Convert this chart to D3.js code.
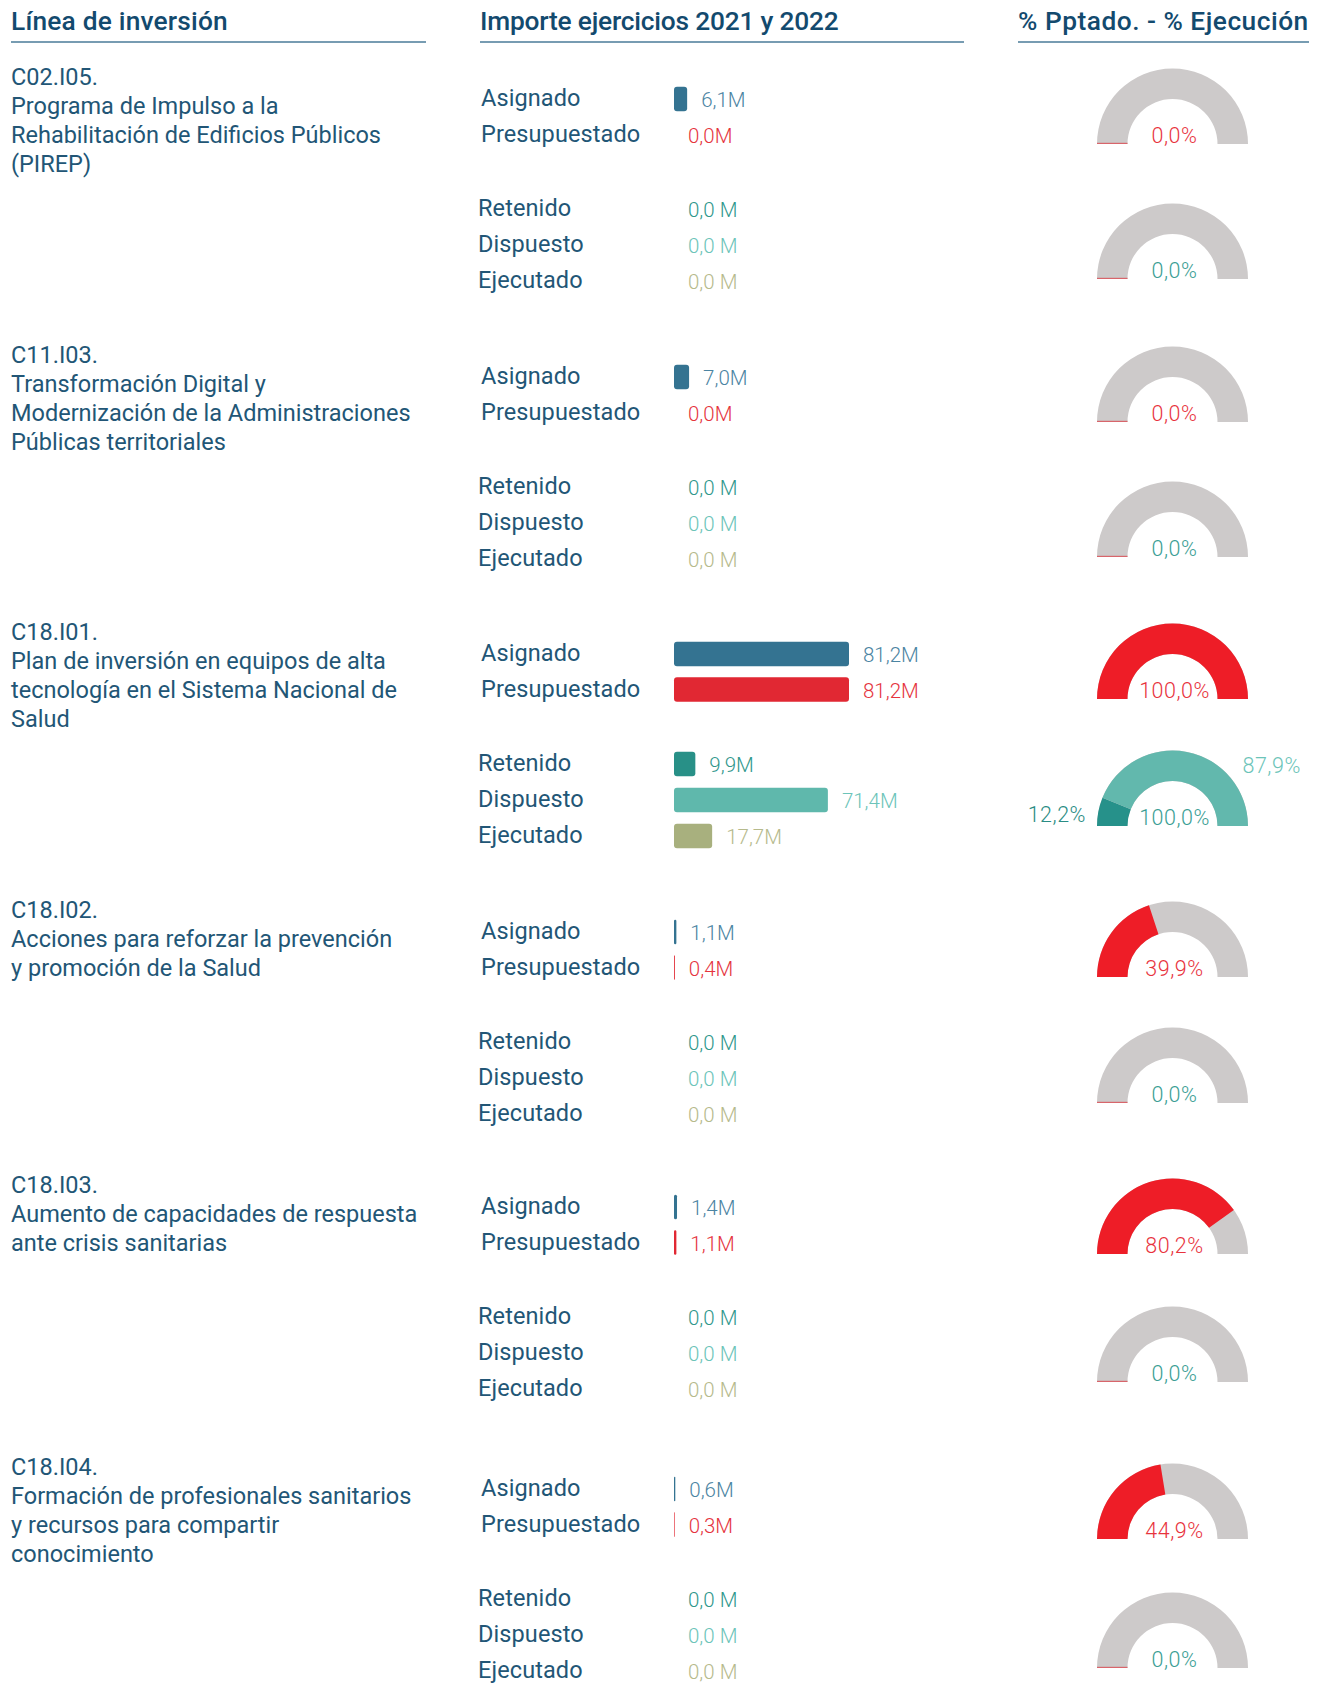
<!DOCTYPE html>
<html lang="es">
<head>
<meta charset="utf-8">
<script src="https://cdn.jsdelivr.net/npm/d3@7"></script>
<style>
  html, body { margin: 0; padding: 0; background: #ffffff; }
  svg { display: block; font-family: Roboto, "Noto Sans", sans-serif; }
</style>
</head>
<body>
<svg id="chart" width="1325" height="1685"></svg>
<script>
// Investment lines (code + description split in printed lines)
const codes = ["C02.I05.", "C11.I03.", "C18.I01.", "C18.I02.", "C18.I03.", "C18.I04."];
const titles = [
  ["Programa de Impulso a la", "Rehabilitación de Edificios Públicos", "(PIREP)"],
  ["Transformación Digital y", "Modernización de la Administraciones", "Públicas territoriales"],
  ["Plan de inversión en equipos de alta", "tecnología en el Sistema Nacional de", "Salud"],
  ["Acciones para reforzar la prevención", "y promoción de la Salud"],
  ["Aumento de capacidades de respuesta", "ante crisis sanitarias"],
  ["Formación de profesionales sanitarios", "y recursos para compartir", "conocimiento"]
];

// Amounts 2021-2022, millions of euros
const rowLabels = ["Asignado", "Presupuestado", "Retenido", "Dispuesto", "Ejecutado"];
const asignado      = [6.1, 7.0, 81.2, 1.1, 1.4, 0.6];
const presupuestado = [0.0, 0.0, 81.2, 0.4, 1.1, 0.3];
const retenido      = [0.0, 0.0, 9.9, 0.0, 0.0, 0.0];
const dispuesto     = [0.0, 0.0, 71.4, 0.0, 0.0, 0.0];
const ejecutado     = [0.0, 0.0, 17.7, 0.0, 0.0, 0.0];

// Percentages shown in the gauges
const pctPresupuestado = [0.0, 0.0, 100.0, 39.9, 80.2, 44.9];
const pctRetenido      = [0.0, 0.0, 12.2, 0.0, 0.0, 0.0];
const pctDispuesto     = [0.0, 0.0, 87.9, 0.0, 0.0, 0.0];
const pctEjecucion     = [0.0, 0.0, 100.0, 0.0, 0.0, 0.0];

const headers = ["Línea de inversión", "Importe ejercicios 2021 y 2022", "% Pptado. - % Ejecución"];

// ---- styling ----
const navy = "#134a6e";
const textBlue = "#225676";
const barColors  = ["#347391", "#e12833", "#289087", "#5fb8ac", "#a8b07e"];
const valColors  = ["#4b84a2", "#e5343e", "#2f978c", "#6cc4b9", "#b6ba8c"];
const gaugeGrey = "#cdcaca";
const gaugeRed = "#ee1d27";
const gaugeTealDark = "#26918a";
const gaugeTealLight = "#62b8ad";

const svg = d3.select("#chart");

const fmtM = (v, spaced) => v.toFixed(1).replace(".", ",") + (spaced && v === 0 ? " M" : "M");
const fmtP = v => v.toFixed(1).replace(".", ",") + "%";

// ---- column headers ----
const headerCols = [
  { x: 11, x2: 426, ls: 0.2 },
  { x: 480, x2: 964, ls: -0.2 },
  { x: 1018, x2: 1309, ls: 0.5 }
];
headers.forEach((h, i) => {
  svg.append("text")
    .attr("x", headerCols[i].x).attr("y", 30)
    .attr("font-size", 26.3).attr("font-weight", 500)
    .attr("letter-spacing", headerCols[i].ls)
    .attr("fill", navy).text(h);
  svg.append("line")
    .attr("x1", headerCols[i].x).attr("x2", headerCols[i].x2)
    .attr("y1", 42).attr("y2", 42)
    .attr("stroke", "#4a7b99").attr("stroke-width", 1.4);
});

// ---- layout ----
// vertical origin of each investment block and baselines of its two gauges
const panelTop = [0, 278, 555, 833, 1108, 1390];
const presGaugeY = [144, 144, 144, 144, 146, 149];
const execGaugeY = [279, 279, 271, 270, 274, 278];
const rowCenters = [99, 134.5, 209, 245, 281];
const barX0 = 674;
const barH = 24.5;
const x = d3.scaleLinear().domain([0, 81.2]).range([0, 175]);

const gaugeCx = 1172.5, rOut = 75.5, rIn = 45;
const arc = d3.arc().innerRadius(rIn).outerRadius(rOut);
const A0 = -Math.PI / 2;
const angle = d3.scaleLinear().domain([0, 100]).range([A0, Math.PI / 2]).clamp(true);

codes.forEach((code, i) => {
  const g = svg.append("g").attr("transform", `translate(0,${panelTop[i]})`);

  // left column: code and title
  const t = g.append("text")
    .attr("x", 11).attr("y", 84.5)
    .attr("font-size", 23.5).attr("font-weight", 400)
    .attr("fill", textBlue);
  [code].concat(titles[i]).forEach((line, k) => {
    t.append("tspan").attr("x", 11).attr("y", 84.5 + k * 29).text(line);
  });

  // middle column: bars
  const vals = [asignado[i], presupuestado[i], retenido[i], dispuesto[i], ejecutado[i]];
  vals.forEach((v, r) => {
    const cy = rowCenters[r];
    g.append("text")
      .attr("x", r < 2 ? 481 : 478).attr("y", cy + 7)
      .attr("font-size", 23.5).attr("font-weight", 400)
      .attr("letter-spacing", 0.1)
      .attr("fill", textBlue).text(rowLabels[r]);
    const w = x(v);
    if (w > 0) {
      g.append("rect")
        .attr("x", barX0).attr("y", cy - barH / 2)
        .attr("width", w).attr("height", barH)
        .attr("rx", Math.min(3, w / 2)).attr("ry", Math.min(3, w / 2))
        .attr("fill", barColors[r]);
    }
    g.append("text")
      .attr("x", barX0 + w + 14).attr("y", cy + 8)
      .attr("font-size", 20.5).attr("font-weight", 300)
      .attr("fill", valColors[r]).text(fmtM(v, r >= 2));
  });

  // right column: gauges
  const gauges = [
    { base: presGaugeY[i], segs: [{ v: pctPresupuestado[i], c: gaugeRed }], label: pctPresupuestado[i], lc: "#e8333d" },
    { base: execGaugeY[i], segs: [{ v: pctRetenido[i], c: gaugeTealDark }, { v: pctDispuesto[i], c: gaugeTealLight }], label: pctEjecucion[i], lc: "#3a9e94" }
  ];
  gauges.forEach(gd => {
    const gg = g.append("g").attr("transform", `translate(${gaugeCx},${gd.base})`);
    gg.append("path").attr("d", arc({ startAngle: A0, endAngle: Math.PI / 2 })).attr("fill", gaugeGrey);
    let acc = 0;
    gd.segs.forEach(s => {
      if (s.v > 0) {
        gg.append("path")
          .attr("d", arc({ startAngle: angle(acc), endAngle: angle(acc + s.v) }))
          .attr("fill", s.c);
      }
      acc += s.v;
    });
    if (acc === 0) {
      // zero value: the empty slice leaves a hairline at the start edge
      gg.append("rect").attr("x", -rOut).attr("y", -1.2).attr("width", rOut - rIn).attr("height", 1.2)
        .attr("fill", "#d9545b").attr("opacity", 0.85);
    }
    gg.append("text")
      .attr("x", 2).attr("y", -1)
      .attr("text-anchor", "middle")
      .attr("font-size", 21.5).attr("font-weight", 300)
      .attr("letter-spacing", 0.5)
      .attr("fill", gd.lc).text(fmtP(gd.label));
    if (gd.segs.length > 1 && acc > 0) {
      gg.append("text")
        .attr("x", -rOut - 11).attr("y", -4)
        .attr("text-anchor", "end")
        .attr("font-size", 21.5).attr("font-weight", 300)
        .attr("letter-spacing", 0.5)
        .attr("fill", "#2a8c84").text(fmtP(gd.segs[0].v));
      gg.append("text")
        .attr("x", 70).attr("y", -53)
        .attr("font-size", 21.5).attr("font-weight", 300)
        .attr("letter-spacing", 0.5)
        .attr("fill", "#6cc4b9").text(fmtP(gd.segs[1].v));
    }
  });
});
</script>
</body>
</html>
